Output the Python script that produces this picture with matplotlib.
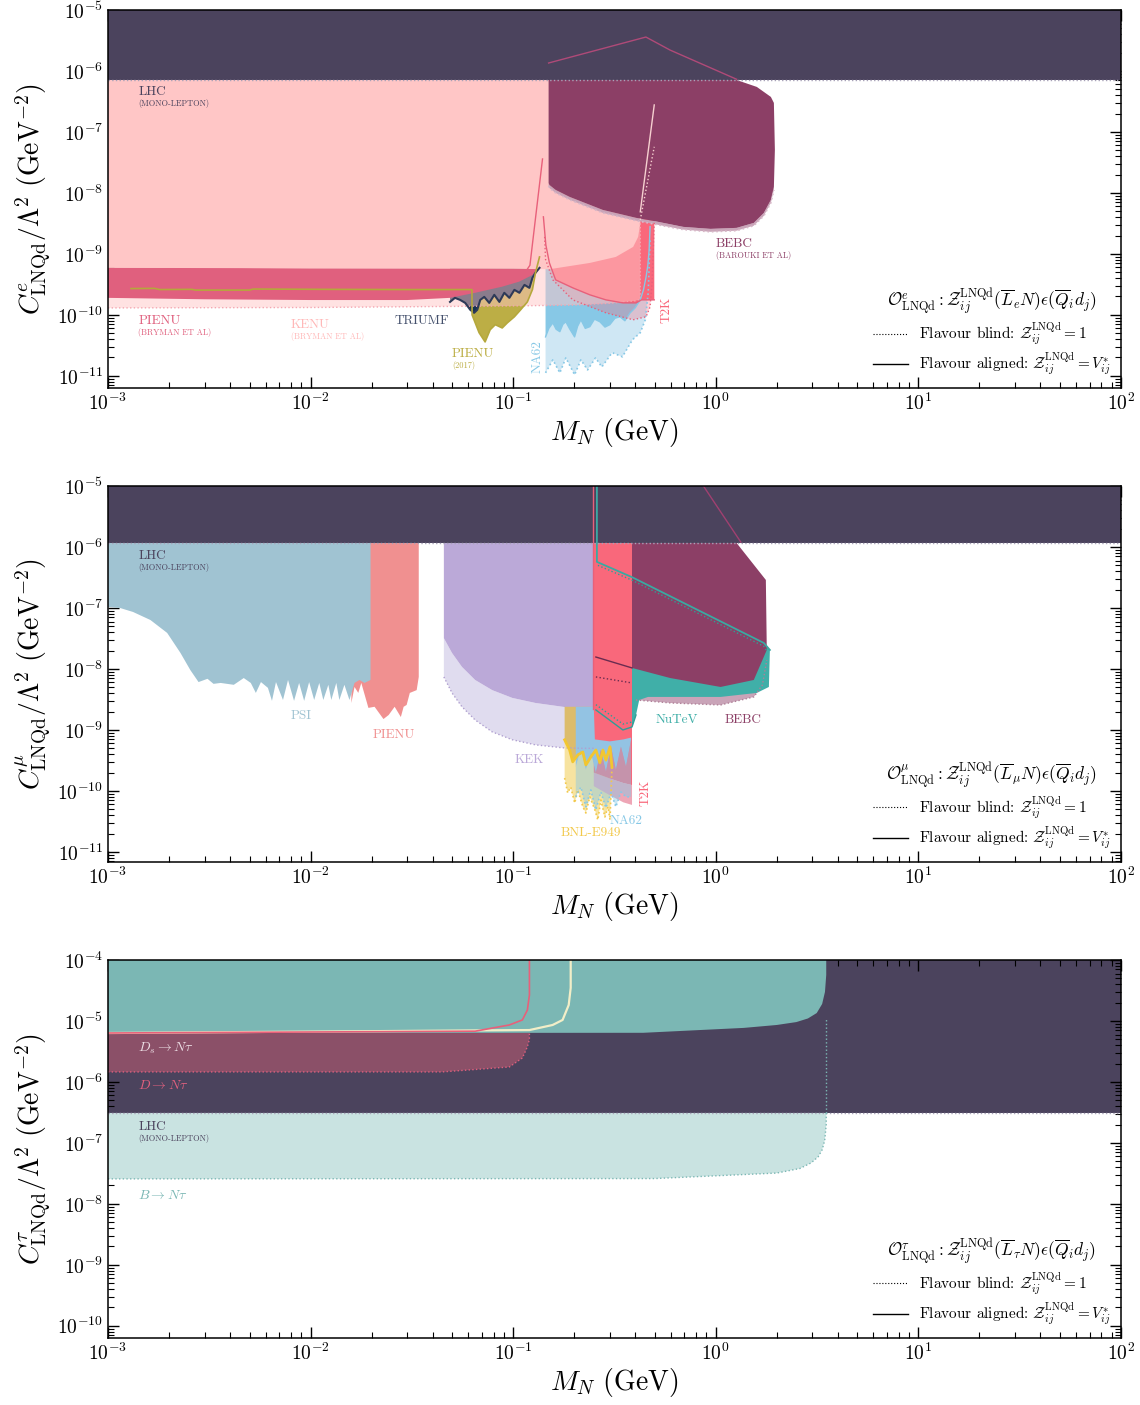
import numpy as np
import matplotlib.pyplot as plt
from matplotlib.lines import Line2D
from matplotlib.ticker import FixedLocator, NullFormatter

plt.rcParams['font.family'] = 'serif'
plt.rcParams['font.serif'] = ['cmr10', 'DejaVu Serif']
plt.rcParams['mathtext.fontset'] = 'cm'
plt.rcParams['axes.unicode_minus'] = False
plt.rcParams['axes.formatter.use_mathtext'] = True

DARK = '#4b435d'

# ---------------- electron panel ----------------
LHC_E = 7.1e-7

kenu_al_x = [1e-3, 0.01, 0.1, 0.151, 0.239, 0.321, 0.391, 0.414, 0.424]
kenu_al_y = [5.9e-10, 5.8e-10, 5.7e-10, 5.6e-10, 7.1e-10, 8.9e-10, 1.3e-9, 1.9e-9, 3.2e-9]
kenu_bl_x = [1e-3, 0.01, 0.1, 0.2, 0.3, 0.4, 0.424, 0.424]
kenu_bl_y = [1.3e-10, 1.32e-10, 1.4e-10, 1.45e-10, 1.55e-10, 1.7e-10, 1.8e-10, 3.2e-9]

pienu_bry_x = [1e-3, 3e-3, 0.01, 0.03, 0.0488, 0.0649, 0.0883, 0.107, 0.1245, 0.132]
pienu_bry_lo = [1.9e-10, 1.8e-10, 1.75e-10, 1.75e-10, 1.9e-10, 2.3e-10, 2.9e-10, 3.5e-10, 4.5e-10, 5.9e-10]
pienu_bry_hi = [6.0e-10, 5.9e-10, 5.8e-10, 5.8e-10, 5.8e-10, 5.8e-10, 5.8e-10, 5.8e-10, 5.8e-10, 5.9e-10]

pienu17_x = [1.3e-3, 1.7e-3, 1.8e-3, 2.6e-3, 2.7e-3, 5.0e-3, 5.2e-3, 0.012, 0.03, 0.0626,
             0.0627, 0.0679, 0.0727, 0.0770, 0.0816, 0.0883, 0.0936, 0.1014, 0.1086, 0.1175,
             0.1245, 0.1289, 0.1349]
pienu17_y = [2.7e-10, 2.72e-10, 2.6e-10, 2.62e-10, 2.55e-10, 2.55e-10, 2.65e-10, 2.62e-10, 2.6e-10, 2.6e-10,
             1.0e-10, 5.1e-11, 3.6e-11, 5.7e-11, 6.9e-11, 6.1e-11, 7.4e-11, 9.3e-11, 1.2e-10, 1.63e-10,
             2.6e-10, 4.9e-10, 8.9e-10]

triumf_x = [0.0488, 0.0516, 0.0547, 0.0580, 0.0614, 0.0642, 0.0665, 0.0688, 0.0720, 0.0762, 0.0807,
            0.0855, 0.0904, 0.0958, 0.1014, 0.1074, 0.1137, 0.1203, 0.1245, 0.1289, 0.1349]
triumf_y = [1.63e-10, 1.9e-10, 1.76e-10, 1.57e-10, 1.21e-10, 1.08e-10, 1.21e-10, 1.76e-10, 1.97e-10, 1.57e-10, 2.13e-10,
            1.63e-10, 2.3e-10, 1.9e-10, 2.57e-10, 2.3e-10, 3.1e-10, 2.77e-10, 4.05e-10, 4.9e-10, 5.9e-10]

na62_e_x = [0.1445, 0.150, 0.157, 0.163, 0.170, 0.176, 0.182, 0.190, 0.201, 0.208, 0.216, 0.227, 0.239, 0.252,
            0.268, 0.284, 0.300, 0.318, 0.337, 0.356, 0.378, 0.40, 0.424, 0.44, 0.453, 0.462, 0.469, 0.474]
na62_e_y = [4.35e-11, 6.0e-11, 7.4e-11, 5.8e-11, 5.3e-11, 7.0e-11, 7.7e-11, 5.9e-11, 4.35e-11, 6.5e-11, 8.3e-11,
            6.0e-11, 6.4e-11, 8.5e-11, 7.7e-11, 6.3e-11, 6.9e-11, 8.8e-11, 9.3e-11, 8.0e-11, 1.08e-10, 1.3e-10,
            1.76e-10, 2.6e-10, 4.2e-10, 6.5e-10, 1.16e-9, 2.8e-9]
na62_e_bl_x = [0.1445, 0.157, 0.170, 0.182, 0.201, 0.216, 0.233, 0.255, 0.274, 0.308, 0.346, 0.388, 0.424,
               0.449, 0.464, 0.474]
na62_e_bl_y = [1.12e-11, 1.83e-11, 1.12e-11, 1.97e-11, 1.04e-11, 1.83e-11, 1.25e-11, 1.97e-11, 1.4e-11, 2.4e-11,
               2.05e-11, 3.9e-11, 5.1e-11, 8.3e-11, 2.3e-10, 1.7e-9]

t2k_e_x = [0.141, 0.145, 0.151, 0.162, 0.197, 0.239, 0.287, 0.348, 0.404, 0.43, 0.47, 0.497]
t2k_e_y = [4.05e-9, 1.4e-9, 7.1e-10, 3.75e-10, 2.77e-10, 2.13e-10, 1.76e-10, 1.57e-10, 1.57e-10, 1.76e-10,
           1.76e-10, 1.76e-10]
t2k_e_bl_x = [0.143, 0.1445, 0.157, 0.197, 0.287, 0.391, 0.453, 0.474, 0.485, 0.497]
t2k_e_bl_y = [1.9e-9, 8.1e-10, 3.75e-10, 1.76e-10, 1.08e-10, 8.3e-11, 9.3e-11, 1.35e-10, 3.4e-10, 3.4e-9]
t2k_spike_x = [0.1178, 0.121, 0.1396]
t2k_spike_y = [5.7e-10, 6.5e-10, 3.6e-8]

bebc_e_x = [0.1496, 0.151, 0.162, 0.190, 0.277, 0.404, 0.491, 0.692, 0.942, 1.268, 1.541, 1.727, 1.871, 1.936]
bebc_e_y = [1.45e-8, 1.35e-8, 1.12e-8, 8.6e-9, 5.26e-9, 3.9e-9, 3.48e-9, 2.77e-9, 2.57e-9, 2.67e-9, 3.22e-9,
            4.7e-9, 7.7e-9, 1.25e-8]
bebc_e_bl_y = [1.3e-8, 1.2e-8, 1.0e-8, 7.7e-9, 4.7e-9, 3.5e-9, 3.1e-9, 2.5e-9, 2.3e-9, 2.4e-9, 2.9e-9,
               4.2e-9, 6.9e-9, 1.12e-8]
bebc_e_top_x = [0.1496, 1.268, 1.595, 1.871, 1.936, 1.958]
bebc_e_top_y = [1e-6, 7.1e-7, 5.47e-7, 3.75e-7, 2.99e-7, 5.07e-8]
bebc_e_line_x = [0.1496, 0.452, 0.595, 1.268]
bebc_e_line_y = [1.35e-6, 3.6e-6, 2.2e-6, 7.3e-7]
bebc_in_x = [0.424, 0.497]
bebc_in_y = [4.9e-9, 2.77e-7]
bebc_in_bl_y = [3.6e-9, 5.7e-8]

# ---------------- muon panel ----------------
LHC_MU = 1.16e-6

psi_x = [0.001, 0.001147, 0.00133, 0.00162, 0.00196, 0.00228, 0.00255, 0.00280, 0.00310, 0.00332, 0.00360,
         0.00418, 0.00468, 0.00507, 0.00537, 0.00569, 0.00616, 0.00645, 0.00675, 0.00731, 0.00774, 0.00829,
         0.00878, 0.00930, 0.00984, 0.01042, 0.01104, 0.01156, 0.01224, 0.01266, 0.01340, 0.01387, 0.01469,
         0.01556, 0.01648, 0.01742, 0.01846, 0.01977]
psi_y = [1.04e-7, 1.0e-7, 8.6e-8, 6.35e-8, 3.9e-8, 1.83e-8, 9.6e-9, 6.1e-9, 6.9e-9, 5.7e-9, 5.9e-9,
         5.5e-9, 7.1e-9, 5.9e-9, 4.05e-9, 6.1e-9, 4.9e-9, 3.0e-9, 6.1e-9, 3.1e-9, 6.6e-9, 3.0e-9,
         5.9e-9, 3.0e-9, 6.1e-9, 3.1e-9, 5.9e-9, 3.1e-9, 5.5e-9, 3.1e-9, 5.9e-9, 3.1e-9, 5.5e-9,
         3.1e-9, 5.9e-9, 6.6e-9, 5.9e-9, 6.6e-9]

pienu_mu_x = [0.0159, 0.01648, 0.0172, 0.0178, 0.0193, 0.0207, 0.0229, 0.0243, 0.0260, 0.0279, 0.0288,
              0.0298, 0.0309, 0.0334, 0.0342]
pienu_mu_y = [2.77e-9, 5.07e-9, 4.05e-9, 5.9e-9, 2.3e-9, 2.4e-9, 1.51e-9, 1.76e-9, 2.4e-9, 1.63e-9, 2.4e-9,
              2.57e-9, 4.05e-9, 4.5e-9, 7.4e-9]

kek_x = [0.0455, 0.0499, 0.0559, 0.0649, 0.0788, 0.0991, 0.1289, 0.1754, 0.2207, 0.2531]
kek_al_y = [3.2e-8, 1.83e-8, 1.08e-8, 6.6e-9, 4.5e-9, 3.35e-9, 2.77e-9, 2.4e-9, 2.2e-9, 2.4e-9]
kek_bl_y = [7.4e-9, 4.05e-9, 2.4e-9, 1.46e-9, 9.3e-10, 6.9e-10, 5.7e-10, 5.1e-10, 5.0e-10, 5.0e-10]

bnl_x = [0.1795, 0.190, 0.1968, 0.2084, 0.2208, 0.2285, 0.2417, 0.2560, 0.2679, 0.2773, 0.2870, 0.3006, 0.3073]
bnl_y = [6.9e-10, 4.7e-10, 3.0e-10, 3.9e-10, 4.35e-10, 2.67e-10, 3.6e-10, 4.7e-10, 2.9e-10, 4.7e-10, 3.2e-10,
         5.3e-10, 2.47e-10]
bnl_bl_x = [0.1795, 0.1858, 0.1923, 0.2013, 0.2084, 0.2208, 0.2285, 0.2390, 0.2531, 0.2618, 0.2709, 0.2837,
            0.2937, 0.3006, 0.3073]
bnl_bl_y = [1.63e-10, 9.3e-11, 1.16e-10, 6.35e-11, 1.04e-10, 5.5e-11, 4.35e-11, 8.0e-11, 4.9e-11, 3.35e-11,
            7.1e-11, 3.75e-11, 5.5e-11, 3.35e-11, 2.47e-10]

na62_mu_x = [0.2037, 0.2158, 0.2285, 0.2417, 0.2560, 0.2709, 0.2870, 0.3041, 0.3214, 0.3404, 0.3605, 0.3818]
na62_mu_y = [2.47e-10, 4.7e-10, 2.2e-10, 4.2e-10, 1.97e-10, 4.7e-10, 2.05e-10, 5.3e-10, 2.2e-10, 5.3e-10,
             2.47e-10, 6.9e-10]
na62_mu_top_x = [0.2037, 0.25, 0.2531, 0.30, 0.35, 0.3818]
na62_mu_top_y = [2.4e-9, 2.4e-9, 7e-10, 6.5e-10, 7e-10, 7.5e-10]
na62_mu_bl_y = [8.0e-11, 1.16e-10, 5.5e-11, 1.04e-10, 4.9e-11, 9.6e-11, 5.3e-11, 9.3e-11, 5.5e-11, 9.6e-11,
                8.0e-11, 8.0e-11]

t2k_mu_x = [0.25, 0.30, 0.35, 0.386]
t2k_mu_y = [2.0e-10, 1.6e-10, 1.35e-10, 1.25e-10]
t2k_mu_bl_y = [1.2e-10, 8.5e-11, 6.5e-11, 5.9e-11]

bebc_mu_x = [0.386, 0.596, 1.056, 1.541, 1.786]
bebc_mu_y = [1.04e-8, 7.1e-9, 5.07e-9, 6.6e-9, 2.05e-8]
bebc_mu_top_x = [0.386, 1.268, 1.767, 1.786]
bebc_mu_top_y = [2e-6, 1.16e-6, 2.88e-7, 2.05e-8]
bebc_mu_bl_x = [0.404, 0.6, 1.056, 1.541, 1.70, 1.786]
bebc_mu_bl_y = [3.1e-9, 2.77e-9, 2.57e-9, 3.48e-9, 5.47e-9, 1.4e-8]

nutev_lo_x = [0.256, 0.348, 0.386, 0.404, 0.419, 0.463, 1.056, 1.595, 1.829, 1.85]
nutev_lo_y = [2.13e-9, 1.0e-9, 1.12e-9, 1.76e-9, 3.1e-9, 3.48e-9, 3.48e-9, 4.05e-9, 5.07e-9, 2.05e-8]
nutev_hi_x = [0.259, 0.259, 0.386, 1.727, 1.85]
nutev_hi_y = [1e-5, 5.7e-7, 3.2e-7, 2.67e-8, 2.05e-8]
nutev_bl_hi_x = [0.262, 0.386, 1.727, 1.80]
nutev_bl_hi_y = [5.0e-7, 2.85e-7, 2.35e-8, 1.9e-8]
nutev_bl_lo_x = [0.256, 0.348, 0.386]
nutev_bl_lo_y = [2.6e-9, 1.25e-9, 1.35e-9]

bebc_mu_in_x = [0.256, 0.386]
bebc_mu_in_y = [1.57e-8, 1.04e-8]
bebc_mu_in_bl_y = [7.4e-9, 5.9e-9]
bebc_mu_line_x = [0.869, 1.33]
bebc_mu_line_y = [1e-5, 1.2e-6]
t2k_mu_line_x = [0.249, 0.249]
t2k_mu_line_y = [1e-5, 2.2e-9]

# ---------------- tau panel ----------------
LHC_TAU = 3.1e-7

b_al_x = [1e-3, 0.438, 1.374, 2.0, 2.5, 2.85, 3.15, 3.35, 3.46, 3.51, 3.51]
b_al_y = [6.35e-6, 6.4e-6, 7.7e-6, 8.6e-6, 9.6e-6, 1.1e-5, 1.35e-5, 1.9e-5, 3.0e-5, 5.7e-5, 1e-4]
b_bl_x = [1e-3, 0.5, 2.0, 2.6, 2.955, 3.2, 3.35, 3.45, 3.51, 3.51]
b_bl_y = [2.57e-8, 2.6e-8, 3.2e-8, 3.8e-8, 4.7e-8, 5.9e-8, 7.7e-8, 1.1e-7, 2.0e-7, 3.1e-7]
d_bl_x = [1e-3, 0.0445, 0.0957, 0.111, 0.1175, 0.1203, 0.1203]
d_bl_y = [1.46e-6, 1.46e-6, 1.76e-6, 2.47e-6, 3.75e-6, 5.0e-6, 6.35e-6]
d_al_x = [1e-3, 0.0649, 0.0957, 0.111, 0.1175, 0.1203, 0.1203]
d_al_y = [6.35e-6, 6.8e-6, 8.6e-6, 1.04e-5, 1.51e-5, 2.67e-5, 1e-4]
ds_al_x = [1e-3, 0.1203, 0.1566, 0.1754, 0.188, 0.1923, 0.1923]
ds_al_y = [6.35e-6, 7.1e-6, 8.6e-6, 1.04e-5, 1.83e-5, 3.5e-5, 1e-4]


def band(ax, xl, yl, xu, yu, z, **kw):
    xs = np.concatenate([np.asarray(xl, float), np.asarray(xu, float)[::-1]])
    ys = np.concatenate([np.asarray(yl, float), np.asarray(yu, float)[::-1]])
    ax.fill(xs, ys, zorder=z, lw=0, **kw)


def label(ax, x, y, name, sub=None, color=DARK, rot=0, size=9.5, dy=0.64):
    ax.text(x, y, name, color=color, fontsize=size, rotation=rot, ha='left' if rot == 0 else 'center',
            va='center', zorder=20)
    if sub:
        ax.text(x, y * dy, sub, color=color, fontsize=6, ha='left', va='center', zorder=20)


def log_ticks(lo_dec, hi_dec):
    major = [10.0 ** k for k in range(lo_dec, hi_dec + 1)]
    minor = [m * 10.0 ** k for k in range(lo_dec - 1, hi_dec) for m in range(2, 10)]
    return major, minor


def setup(ax, ylo, yhi, ydec, flav):
    ax.set_xscale('log')
    ax.set_yscale('log')
    ax.set_xlim(1e-3, 1e2)
    ax.set_ylim(ylo, yhi)
    xmaj, xmin = log_ticks(-3, 2)
    ymaj, ymin = log_ticks(*ydec)
    ax.xaxis.set_major_locator(FixedLocator(xmaj))
    ax.xaxis.set_minor_locator(FixedLocator([v for v in xmin if 1e-3 < v < 1e2]))
    ax.yaxis.set_major_locator(FixedLocator(ymaj))
    ax.yaxis.set_minor_locator(FixedLocator([v for v in ymin if ylo < v < yhi]))
    ax.xaxis.set_minor_formatter(NullFormatter())
    ax.yaxis.set_minor_formatter(NullFormatter())
    ax.tick_params(which='both', direction='in', top=True, right=True, labelsize=14)
    ax.tick_params(which='major', length=8, width=1.0)
    ax.tick_params(which='minor', length=4, width=0.8)
    for s in ax.spines.values():
        s.set_linewidth(1.1)
        s.set_zorder(30)
    ax.set_xlabel(r'$M_N\ (\mathrm{GeV})$', fontsize=20, labelpad=1)
    ax.set_ylabel(r'$C^{%s}_{\mathrm{LNQd}}/\Lambda^2\ (\mathrm{GeV}^{-2})$' % flav, fontsize=20, labelpad=3)
    handles = [Line2D([], [], color='k', ls=':', lw=0.8), Line2D([], [], color='k', lw=1.0)]
    labels = [r'Flavour blind: $\mathcal{Z}^{\mathrm{LNQd}}_{ij}=1$',
              r'Flavour aligned: $\mathcal{Z}^{\mathrm{LNQd}}_{ij}=V^{*}_{ij}$']
    title = (r'$\mathcal{O}^{%s}_{\mathrm{LNQd}}:\mathcal{Z}^{\mathrm{LNQd}}_{ij}(\overline{L}_{%s}N)'
             r'\epsilon(\overline{Q}_i d_j)$' % (flav, flav))
    leg = ax.legend(handles, labels, title=title, loc='lower right', frameon=False, fontsize=11,
                    title_fontsize=12.5, handlelength=2.3, handletextpad=0.7, labelspacing=0.3,
                    borderaxespad=0.3)
    leg.set_zorder(40)


fig = plt.figure(figsize=(11.4, 14.05), dpi=100)
ax1 = fig.add_axes([0.0947, 0.7238, 0.8886, 0.2691])
ax2 = fig.add_axes([0.0947, 0.3865, 0.8886, 0.2676])
ax3 = fig.add_axes([0.0947, 0.0477, 0.8886, 0.2690])

# ---- electron ----
ax = ax1
band(ax, pienu17_x[10:], pienu17_y[10:], [0.0626, 0.1349], [6e-10, 6e-10], 2, color='#bcae45')
band(ax, triumf_x, triumf_y, [0.0488, 0.1349], [6e-10, 6e-10], 2.5, color='#153252')
band(ax, na62_e_bl_x, na62_e_bl_y, na62_e_x, na62_e_y, 3, color='#cfe7f4')
band(ax, na62_e_x, na62_e_y, [0.1445, 0.44, 0.474], [6e-10, 6e-10, 3e-9], 3.2, color='#87c8e6')
band(ax, t2k_e_x, t2k_e_y, [0.141, 0.497], [1e-6, 1e-6], 4, color='#f9687b')
band(ax, t2k_e_bl_x, t2k_e_bl_y, t2k_e_x, t2k_e_y, 4.2, color='#f9687b', alpha=0.3)
band(ax, kenu_bl_x, kenu_bl_y, [1e-3, 0.424], [1e-6, 1e-6], 5, color='#ffc6c6', alpha=0.5)
band(ax, pienu_bry_x, pienu_bry_lo, pienu_bry_x, pienu_bry_hi, 6, color='#e0607e')
band(ax, kenu_al_x, kenu_al_y, [1e-3, 0.424], [1e-6, 1e-6], 6.5, color='#ffc6c6')
band(ax, bebc_e_x, bebc_e_bl_y, bebc_e_x, bebc_e_y, 7, color='#c9a4b8')
band(ax, bebc_e_x, bebc_e_y, bebc_e_top_x, bebc_e_top_y, 7.2, color='#8c3f66')
ax.plot(kenu_bl_x, kenu_bl_y, ls=':', color='#f4a6b0', lw=1, zorder=8)
ax.plot(na62_e_bl_x, na62_e_bl_y, ls=':', color='#87c8e6', lw=1.2, zorder=8)
ax.plot(na62_e_x, na62_e_y, color='#87c8e6', lw=1.0, zorder=8)
ax.plot(t2k_e_x, t2k_e_y, color='#e8607a', lw=1.0, zorder=8)
ax.plot(t2k_e_bl_x, t2k_e_bl_y, ls=':', color='#e8607a', lw=1.0, zorder=8)
ax.plot(t2k_spike_x, t2k_spike_y, color='#e8607a', lw=1.0, zorder=8)
ax.plot(bebc_e_x, bebc_e_bl_y, ls=':', color='#d8b8c8', lw=1.2, zorder=8)
ax.plot(bebc_in_x, bebc_in_y, color='#f6d0d0', lw=1.0, zorder=8)
ax.plot(bebc_in_x, bebc_in_bl_y, ls=':', color='#f6d0d0', lw=1.0, zorder=8)
ax.plot(triumf_x, triumf_y, color='#2e3a58', lw=1.5, zorder=8.5)
ax.plot(pienu17_x, pienu17_y, color='#b5a83c', lw=1.2, zorder=8.6)
ax.axhspan(LHC_E, 1e-5, color=DARK, lw=0, zorder=10)
ax.axhline(LHC_E, color='#a8a2b8', ls=':', lw=1, zorder=10.5)
ax.plot(bebc_e_line_x, bebc_e_line_y, color='#b04a78', lw=1.0, zorder=11)

label(ax, 1.41e-3, 4.5e-7, 'LHC', '(MONO-LEPTON)')
label(ax, 1.41e-3, 8e-11, 'PIENU', '(BRYMAN ET AL)', color='#e0607e')
label(ax, 8.0e-3, 6.9e-11, 'KENU', '(BRYMAN ET AL)', color='#ffb8b8')
label(ax, 0.026, 8e-11, 'TRIUMF', color='#44506c')
label(ax, 0.0499, 2.3e-11, 'PIENU', '(2017)', color='#bcae45')
label(ax, 0.132, 2.05e-11, 'NA62', color='#87c8e6', rot=90)
label(ax, 0.57, 1.21e-10, 'T2K', color='#f9687b', rot=90)
label(ax, 1.0, 1.46e-9, 'BEBC', '(BAROUKI ET AL)', color='#8c3f66')
setup(ax, 6.3e-12, 1e-5, (-11, -5), 'e')

# ---- muon ----
ax = ax2
band(ax, pienu_mu_x, pienu_mu_y, [0.0159, 0.0342], [2e-6, 2e-6], 2, color='#f09090')
band(ax, psi_x, psi_y, [1e-3, 0.01977], [2e-6, 2e-6], 2.2, color='#a0c3d2')
band(ax, kek_x, kek_bl_y, kek_x, kek_al_y, 3, color='#e0dcef')
band(ax, kek_x, kek_al_y, [0.0455, 0.2531], [2e-6, 2e-6], 3.2, color='#bba9d8')
band(ax, bnl_x, bnl_y, [0.1795, 0.3073], [2.4e-9, 2.4e-9], 3.4, color='#dcbc6c')
band(ax, bnl_bl_x, bnl_bl_y, bnl_x, bnl_y, 3.5, color='#f7e3a0')
band(ax, bebc_mu_bl_x, bebc_mu_bl_y, bebc_mu_x, bebc_mu_y, 3.6, color='#c9a4b8')
band(ax, nutev_lo_x, nutev_lo_y, nutev_hi_x, nutev_hi_y, 3.8, color='#40afa8')
band(ax, t2k_mu_x, t2k_mu_bl_y, t2k_mu_x, t2k_mu_y, 4, color='#eea6b6')
band(ax, t2k_mu_x, t2k_mu_y, [0.25, 0.386], [2e-6, 2e-6], 4.2, color='#f9687b')
band(ax, na62_mu_x, na62_mu_y, na62_mu_top_x, na62_mu_top_y, 4.4, color='#93c3e3')
band(ax, na62_mu_x, na62_mu_bl_y, na62_mu_x, na62_mu_y, 4.6, color='#87c8e6', alpha=0.45)
band(ax, bebc_mu_x, bebc_mu_y, bebc_mu_top_x, bebc_mu_top_y, 5, color='#8c3f66')
ax.plot(kek_x, kek_bl_y, ls=':', color='#b0a0d0', lw=1, zorder=8)
ax.plot(bnl_bl_x, bnl_bl_y, ls=':', color='#f2c94c', lw=1.2, zorder=8)
ax.plot(bnl_x, bnl_y, color='#f2c630', lw=2.0, zorder=8)
ax.plot(na62_mu_x, na62_mu_bl_y, ls=':', color='#87c8e6', lw=1.2, zorder=8)
ax.plot(bebc_mu_bl_x, bebc_mu_bl_y, ls=':', color='#b08098', lw=1, zorder=8)
ax.plot(nutev_lo_x[:4], nutev_lo_y[:4], color='#2f9e97', lw=1.0, zorder=8)
ax.plot(nutev_bl_lo_x, nutev_bl_lo_y, ls=':', color='#2f9e97', lw=1.0, zorder=8)
ax.plot(nutev_bl_hi_x, nutev_bl_hi_y, ls=':', color='#2f9e97', lw=1.0, zorder=8)
ax.plot(bebc_mu_in_x, bebc_mu_in_y, color='#6a2c50', lw=1.0, zorder=8)
ax.plot(bebc_mu_in_x, bebc_mu_in_bl_y, ls=':', color='#6a2c50', lw=1.0, zorder=8)
ax.axhspan(LHC_MU, 1e-5, color=DARK, lw=0, zorder=10)
ax.axhline(LHC_MU, color='#a8a2b8', ls=':', lw=1, zorder=10.5)
ax.plot(t2k_mu_line_x, t2k_mu_line_y, color='#e8607a', lw=1.0, zorder=11)
ax.plot(nutev_hi_x, nutev_hi_y, color='#3aa9a2', lw=1.3, zorder=11)
ax.plot(bebc_mu_line_x, bebc_mu_line_y, color='#a04070', lw=1.0, zorder=11)

label(ax, 1.41e-3, 7.1e-7, 'LHC', '(MONO-LEPTON)')
label(ax, 8.0e-3, 1.7e-9, 'PSI', color='#a0c3d2')
label(ax, 0.0202, 8.3e-10, 'PIENU', color='#f09090')
label(ax, 0.1014, 3.2e-10, 'KEK', color='#bba9d8')
label(ax, 0.1714, 2.05e-11, 'BNL-E949', color='#f2c94c')
label(ax, 0.3006, 3.2e-11, 'NA62', color='#87c8e6')
label(ax, 0.448, 9.3e-11, 'T2K', color='#f9687b', rot=90)
label(ax, 0.502, 1.46e-9, 'NuTeV', color='#40afa8')
label(ax, 1.106, 1.46e-9, 'BEBC', color='#8c3f66')
setup(ax, 6.85e-12, 1e-5, (-11, -5), r'\mu')

# ---- tau ----
ax = ax3
ax.axhspan(LHC_TAU, 1e-4, color=DARK, lw=0, zorder=1)
band(ax, d_bl_x, d_bl_y, [1e-3, 0.1203], [6.35e-6, 6.35e-6], 2, color='#8b5068')
band(ax, b_al_x, b_al_y, [1e-3, 3.51], [1e-4, 1e-4], 3, color='#7bb7b4')
band(ax, b_bl_x, b_bl_y, [1e-3, 3.51], [LHC_TAU, LHC_TAU], 3, color='#c9e3e1')
ax.axhline(LHC_TAU, color='#a8a2b8', ls=':', lw=1, zorder=4)
ax.plot(d_bl_x, d_bl_y, ls=':', color='#e0607e', lw=1, zorder=5)
ax.plot(b_bl_x, b_bl_y, ls=':', color='#7bb7b4', lw=1, zorder=5)
ax.plot([3.51, 3.51], [LHC_TAU, 1.1e-5], ls=':', color='#7bb7b4', lw=1, zorder=5)
ax.plot(ds_al_x, ds_al_y, color='#f2eec8', lw=1.6, zorder=6)
ax.plot(d_al_x, d_al_y, color='#e8607a', lw=1.2, zorder=6)

ax.text(1.41e-3, 3.6e-6, r'$D_s\to N\tau$', color='#ecdde4', fontsize=10, va='center', zorder=20)
ax.text(1.41e-3, 8.6e-7, r'$D\to N\tau$', color='#e0607e', fontsize=10, va='center', zorder=20)
label(ax, 1.41e-3, 1.83e-7, 'LHC', '(MONO-LEPTON)')
ax.text(1.41e-3, 1.35e-8, r'$B\to N\tau$', color='#7bb7b4', fontsize=10, va='center', zorder=20)
setup(ax, 6.3e-11, 1e-4, (-10, -4), r'\tau')

fig.savefig('out.png', dpi=100)
